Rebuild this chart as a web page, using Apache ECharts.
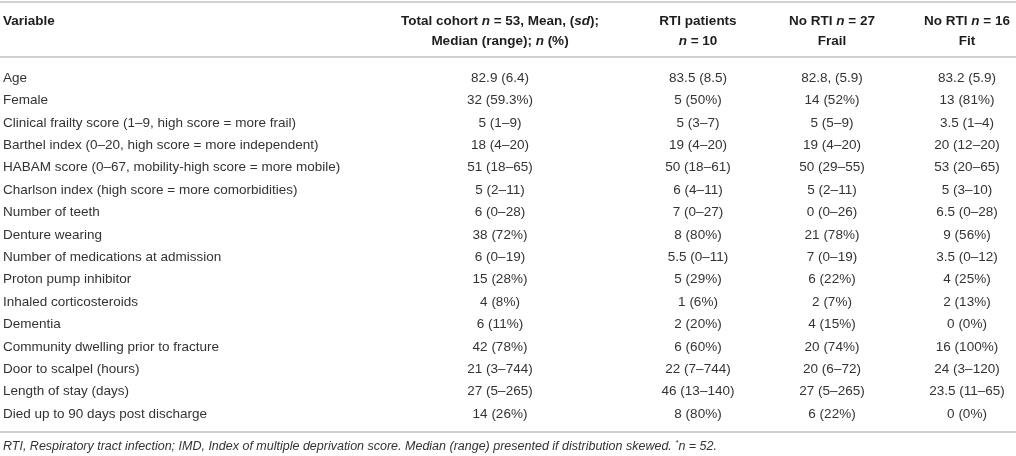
<!DOCTYPE html>
<html>
<head>
<meta charset="utf-8">
<script src="https://cdn.jsdelivr.net/npm/echarts@6/dist/echarts.min.js"></script>
<style>
  html, body { margin: 0; padding: 0; background: #fff; }
  #chart { width: 1016px; height: 456px; }
</style>
</head>
<body>
<div id="chart"></div>
<script>
"use strict";

// table content, one array per column
var variables = [
  'Age',
  'Female',
  'Clinical frailty score (1–9, high score = more frail)',
  'Barthel index (0–20, high score = more independent)',
  'HABAM score (0–67, mobility-high score = more mobile)',
  'Charlson index (high score = more comorbidities)',
  'Number of teeth',
  'Denture wearing',
  'Number of medications at admission',
  'Proton pump inhibitor',
  'Inhaled corticosteroids',
  'Dementia',
  'Community dwelling prior to fracture',
  'Door to scalpel (hours)',
  'Length of stay (days)',
  'Died up to 90 days post discharge'
];
var totalCohort = ['82.9 (6.4)', '32 (59.3%)', '5 (1–9)', '18 (4–20)', '51 (18–65)', '5 (2–11)', '6 (0–28)', '38 (72%)',
  '6 (0–19)', '15 (28%)', '4 (8%)', '6 (11%)', '42 (78%)', '21 (3–744)', '27 (5–265)', '14 (26%)'];
var rtiPatients = ['83.5 (8.5)', '5 (50%)', '5 (3–7)', '19 (4–20)', '50 (18–61)', '6 (4–11)', '7 (0–27)', '8 (80%)',
  '5.5 (0–11)', '5 (29%)', '1 (6%)', '2 (20%)', '6 (60%)', '22 (7–744)', '46 (13–140)', '8 (80%)'];
var noRtiFrail = ['82.8, (5.9)', '14 (52%)', '5 (5–9)', '19 (4–20)', '50 (29–55)', '5 (2–11)', '0 (0–26)', '21 (78%)',
  '7 (0–19)', '6 (22%)', '2 (7%)', '4 (15%)', '20 (74%)', '20 (6–72)', '27 (5–265)', '6 (22%)'];
var noRtiFit = ['83.2 (5.9)', '13 (81%)', '3.5 (1–4)', '20 (12–20)', '53 (20–65)', '5 (3–10)', '6.5 (0–28)', '9 (56%)',
  '3.5 (0–12)', '4 (25%)', '2 (13%)', '0 (0%)', '16 (100%)', '24 (3–120)', '23.5 (11–65)', '0 (0%)'];

var headers = [
  '{b|Variable}',
  '{b|Total cohort }{bi|n}{b| = 53, Mean, (}{bi|sd}{b|);}\n{b|Median (range); }{bi|n}{b| (%)}',
  '{b|RTI patients}\n{bi|n}{b| = 10}',
  '{b|No RTI }{bi|n}{b| = 27}\n{b|Frail}',
  '{b|No RTI }{bi|n}{b| = 16}\n{b|Fit}'
];
var footnote = '{i|RTI, Respiratory tract infection; IMD, Index of multiple deprivation score. ' +
  'Median (range) presented if distribution skewed. }{sup|*}{i|n = 52.}';

// layout
var columns = [variables, totalCohort, rtiPatients, noRtiFrail, noRtiFit];
var colX = [3, 500, 698, 832, 967];
var colAlign = ['left', 'center', 'center', 'center', 'center'];
var fontFamily = "'Liberation Sans', Arial, sans-serif";
var lineColor = '#c2c2c2';

var cells = [];
for (var c = 0; c < columns.length; c++) {
  for (var r = 0; r < columns[c].length; r++) {
    cells.push([c, r]);
  }
}

var hline = function(y) {
  return {
    type: 'line',
    shape: { x1: 0, y1: y, x2: 1016, y2: y },
    style: { stroke: lineColor, lineWidth: 1.6 },
    silent: true
  };
};

var headerGraphics = headers.map(function(text, i) {
  return {
    type: 'text',
    x: colX[i],
    y: i === 0 ? 21 : 31,
    style: {
      text: text,
      align: colAlign[i],
      verticalAlign: 'middle',
      fontFamily: fontFamily,
      fontSize: 13.5,
      lineHeight: 20,
      fill: '#1e1e1e',
      rich: {
        b: { fontWeight: 'bold', fontSize: 13.5, fontFamily: fontFamily, lineHeight: 20, fill: '#1e1e1e' },
        bi: { fontWeight: 'bold', fontStyle: 'italic', fontSize: 13.5, fontFamily: fontFamily, lineHeight: 20, fill: '#1e1e1e' }
      }
    }
  };
});

var chart = echarts.init(document.getElementById('chart'));
chart.setOption({
  animation: false,
  backgroundColor: '#fff',
  grid: { left: 0, right: 0, top: 66.8, bottom: 30.8 },
  xAxis: { type: 'value', min: 0, max: 1016, show: false },
  yAxis: { type: 'category', data: variables, inverse: true, show: false },
  graphic: [hline(2), hline(57), hline(432)].concat(headerGraphics).concat([{
    type: 'text',
    x: 3,
    y: 447,
    style: {
      text: footnote,
      verticalAlign: 'middle',
      fontFamily: fontFamily,
      fontSize: 12.5,
      lineHeight: 16,
      fill: '#333',
      rich: {
        i: { fontStyle: 'italic', fontSize: 12.5, fontFamily: fontFamily, lineHeight: 16, fill: '#333' },
        sup: { fontStyle: 'italic', fontSize: 8, fontFamily: fontFamily, lineHeight: 16, verticalAlign: 'top', fill: '#333' }
      }
    }
  }]),
  series: [{
    type: 'custom',
    data: cells,
    renderItem: function(params, api) {
      var c = api.value(0);
      var r = api.value(1);
      var p = api.coord([colX[c], r]);
      return {
        type: 'text',
        x: p[0],
        y: p[1],
        style: {
          text: columns[c][r],
          align: colAlign[c],
          verticalAlign: 'middle',
          fontFamily: fontFamily,
          fontSize: 13.5,
          fill: '#333'
        }
      };
    }
  }]
});
</script>
</body>
</html>
